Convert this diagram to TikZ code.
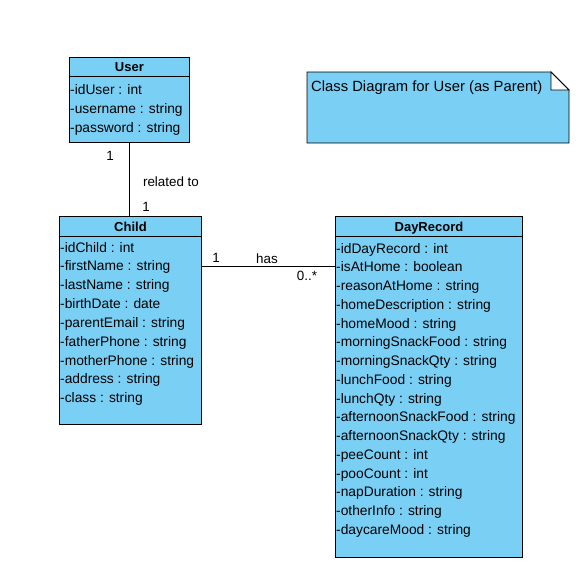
\documentclass[tikz,border=0pt]{standalone}
\usepackage{fontspec}
\setmainfont{Liberation Sans}
\usetikzlibrary{calc,positioning}
\definecolor{classblue}{RGB}{122,207,245}

\begin{document}
\begin{tikzpicture}[x=1pt,y=-1pt,
		cls/.style={draw=black,fill=classblue,line width=0.9pt,anchor=north west,inner sep=0pt},
		attr/.style={anchor=west,inner sep=0pt,text height=9pt,text depth=3pt,font=\fontsize{13.8}{15}\selectfont},
		head/.style={inner sep=0pt,text height=9pt,text depth=3pt,font=\fontsize{13}{15}\selectfont\bfseries},
		lbl/.style={inner sep=0pt,text height=9pt,text depth=3pt,font=\fontsize{13.4}{15}\selectfont}]
		\useasboundingbox (0,0) rectangle (586,573);
		
		%classes
		\node[cls,minimum width=120pt,minimum height=85pt] (user) at (69,57) {};
		\node[cls,minimum width=142pt,minimum height=208pt] (child) at (59,216) {};
		\node[cls,minimum width=187pt,minimum height=341pt] (rec) at (335,216) {};
		\draw[line width=0.9pt] ($(user.north west)+(0,19)$) -- ($(user.north east)+(0,19)$);
		\draw[line width=0.9pt] ($(child.north west)+(0,20)$) -- ($(child.north east)+(0,20)$);
		\draw[line width=0.9pt] ($(rec.north west)+(0,20)$) -- ($(rec.north east)+(0,20)$);
		\node[head] (usertitle) at ($(user.north)+(0,11.5)$) {User};
		\node[head] (childtitle) at ($(child.north)+(0,12)$) {Child};
		\node[head] (rectitle) at ($(rec.north)+(0,12)$) {DayRecord};
		
		%attributes
		\foreach \t [count=\i] in {-idUser : int,-username : string,-password : string}{
			\node[attr] (u\i) at (70,{91+(\i-1)*19}) {\t};
		}
		\foreach \t [count=\i] in {-idChild : int,-firstName : string,-lastName : string,-birthDate : date,
			-parentEmail : string,-fatherPhone : string,-motherPhone : string,-address : string,-class : string}{
			\node[attr] (c\i) at (60,{249+(\i-1)*18.85}) {\t};
		}
		\foreach \t [count=\i] in {-idDayRecord : int,-isAtHome : boolean,-reasonAtHome : string,
			-homeDescription : string,-homeMood : string,-morningSnackFood : string,-morningSnackQty : string,
			-lunchFood : string,-lunchQty : string,-afternoonSnackFood : string,-afternoonSnackQty : string,
			-peeCount : int,-pooCount : int,-napDuration : string,-otherInfo : string,-daycareMood : string}{
			\node[attr] (d\i) at (336,{250+(\i-1)*18.75}) {\t};
		}
		
		%note
		\coordinate (fold) at (551,72);
		\draw[line width=0.9pt,fill=classblue] (307,72) -- (fold) -- (569,90) -- (569,143) -- (307,143) -- cycle;
		\draw[line width=0.9pt,fill=white] (fold) -- (569,90) -- (fold |- 569,90) -- cycle;
		\node[attr,font=\fontsize{14.8}{16}\selectfont] (notetext) at (311,88) {Class Diagram for User (as Parent)};
		
		%associations
		\draw[line width=0.9pt] (user.south) -- (user.south |- child.north);
		\node[lbl] (m1) at (110,157) {1};
		\node[lbl] (reltext) at (171,183) {related to};
		\node[lbl] (m2) at (146,208) {1};
		\coordinate (hasL) at ($(child.north east)+(0,50)$);
		\draw[line width=0.9pt] (hasL) -- (hasL -| rec.west);
		\node[lbl] (m3) at (216,259) {1};
		\node[lbl] (hastext) at (267,260) {has};
		\node[lbl] (m4) at (307,277) {0..*};
\end{tikzpicture}
\end{document}
